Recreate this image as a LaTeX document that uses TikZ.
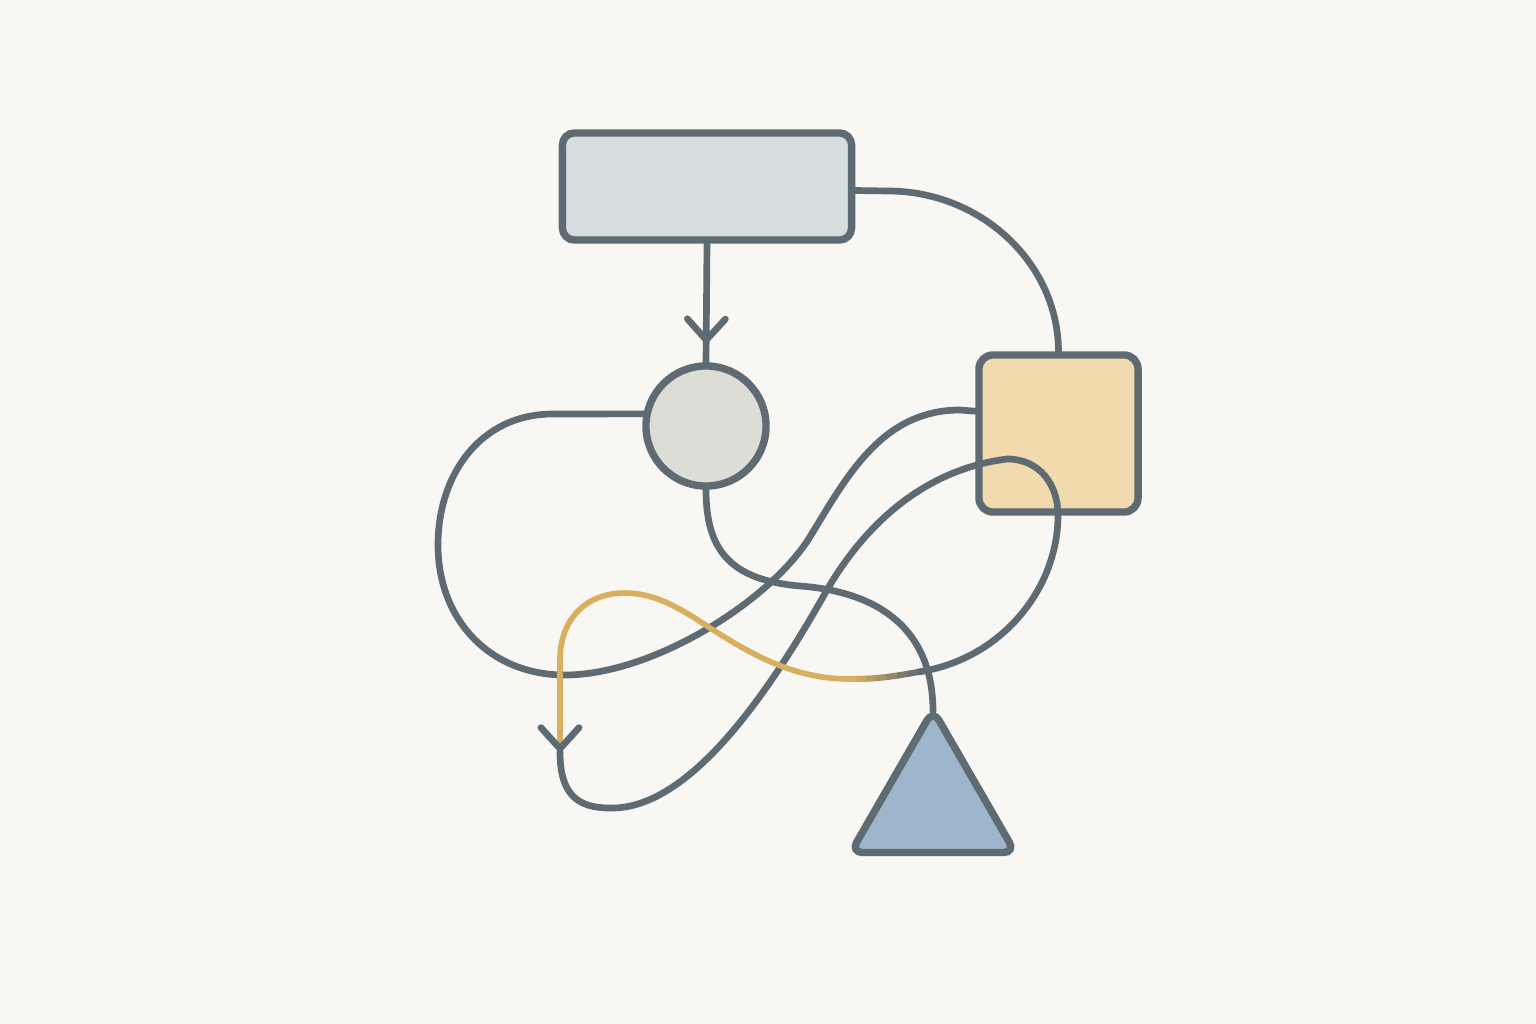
\documentclass[tikz,border=0pt]{standalone}
\usepackage{xcolor}
\usepackage{tikz}
\usetikzlibrary{shapes.geometric, arrows.meta, calc, decorations.markings}
\definecolor{paper}{HTML}{F8F7F3}
\definecolor{edge}{HTML}{5F6B72}
\definecolor{barfill}{HTML}{D6DDDE}
\definecolor{dotfill}{HTML}{DDDDD8}
\definecolor{tilefill}{HTML}{F0DAAE}
\definecolor{conefill}{HTML}{9EB6CB}
\definecolor{gold}{HTML}{D8AE5F}
\tikzset{
    panel/.style={rectangle, draw=edge, fill=barfill, line width=2.1pt, rounded corners=0.12cm, minimum width=2.89cm, minimum height=1.07cm, inner sep=0pt},
    disc/.style={circle, draw=edge, fill=dotfill, line width=2.1pt, minimum size=1.2cm, inner sep=0pt},
    tile/.style={rectangle, draw=edge, fill=tilefill, line width=2.1pt, rounded corners=0.14cm, minimum width=1.59cm, minimum height=1.57cm, inner sep=0pt},
    cone/.style={regular polygon, regular polygon sides=3, draw=edge, fill=conefill, line width=2.1pt, rounded corners=0.12cm, minimum size=1.9cm, inner sep=0pt},
    link/.style={draw=edge, line width=1.9pt, line cap=round},
    goldlink/.style={draw=gold, line width=1.6pt, line cap=round},
    barb/.style={-{Straight Barb[length=2.1mm, width=3.8mm, round, color=edge, line width=1.9pt]}},
    midbarb/.style={postaction={decorate}, decoration={markings, mark=at position #1 with {\arrow{Straight Barb[length=2.1mm, width=3.8mm, round]}}}},
}

\begin{document}
\begin{tikzpicture}[x=0.01cm, y=-0.01cm]
    \useasboundingbox (0,0) rectangle (1536,1024);
    \fill[paper] (0,0) rectangle (1536,1024);

    % Shapes
    \node[panel] (bar) at (707,186.5) {};
    \node[disc] (dot) at (706,426) {};
    \node[tile] (tile) at (1058.5,433.5) {};
    \node[cone] (peak) at (933,805) {};

    \coordinate (tip) at (560,752);
    \coordinate (blend) at (918,672);
    \coordinate (fade) at (855,679);

    % Connectors
    \draw[link, midbarb=0.84] (bar.south) -- (dot.north);
    \draw[link] ($(bar.east)+(0,4)$) -- (888,191) .. controls (981,191) and (1058,263) .. (tile.north);
    \draw[link] (dot.169) -- (553,414) .. controls (480,414) and (438,475) .. (438,545)
        .. controls (438,620) and (490,675) .. (565,675)
        .. controls (650,675) and (765,605) .. (808,540)
        .. controls (845,480) and (880,410) .. (960,410) -- (tile.165);
    \draw[link] (dot.south) .. controls (706,550) and (730,580) .. (800,586)
        .. controls (880,592) and (933,630) .. ($(peak.corner 1)+(0,9)$);

    % Loop through the tile, fading into gold
    \draw[link] (tip) .. controls (560,795) and (578,808) .. (610,808)
        .. controls (690,810) and (770,690) .. (823,597)
        .. controls (860,530) and (920,470) .. (1007,459)
        .. controls (1040,459) and (1058,485) .. (1058,515)
        .. controls (1058,590) and (1000,660) .. (blend);
    \foreach \s [evaluate=\s as \pct using {int(10+\s*16)}] in {0,...,5} {
        \begin{scope}
            \clip ({855+\s*10.5},600) rectangle ({866+\s*10.5},750);
            \draw[line width=1.75pt, draw=edge!\pct!gold] (fade) .. controls (876,679) and (897,676) .. (blend);
        \end{scope}
    }
    \draw[goldlink, barb] (fade) .. controls (800,680) and (760,660) .. (710,628)
        .. controls (680,608) and (655,593) .. (625,593)
        .. controls (585,593) and (560,620) .. (560,660) -- (tip);
\end{tikzpicture}
\end{document}
